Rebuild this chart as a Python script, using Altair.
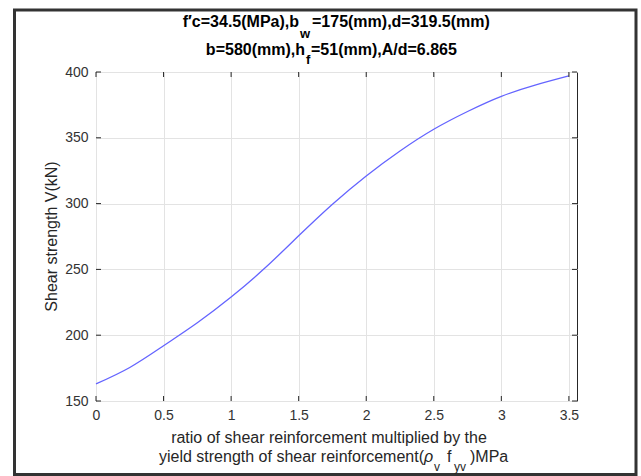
import altair as alt
import pandas as pd

# ---- data ----
x_vals = [0.0, 0.25, 0.5, 0.75, 1.0, 1.25, 1.5, 1.75, 2.0, 2.25, 2.5, 2.75, 3.0, 3.25, 3.5]
v_vals = [163, 175.5, 192, 209.5, 229, 251, 275.5, 299.5, 321, 340, 356.5, 370, 381.5, 390, 397]
x_ticks = [0, 0.5, 1, 1.5, 2, 2.5, 3, 3.5]
y_ticks = [150, 200, 250, 300, 350, 400]
x_domain = [0, 3.56]
y_domain = [150, 400]

title1 = ["f\u2032c=34.5(MPa),b", "w", "=175(mm),d=319.5(mm)"]
title2 = ["b=580(mm),h", "f", "=51(mm),A/d=6.865"]
xlabel1 = "ratio of shear reinforcement multiplied by the"
xlabel2 = ["yield strength of shear reinforcement(", "\u03c1", "v", "f", "yv", ")MPa"]
ylabel = "Shear strength V(kN)"

W, H = 481, 329
FONT = "Liberation Sans"
AX = "#262626"

df = pd.DataFrame({"x": x_vals, "v": v_vals})
xt = pd.DataFrame({"x": x_ticks})
yt = pd.DataFrame({"v": y_ticks})
one = pd.DataFrame({"a": [0]})

xs = alt.Scale(domain=x_domain, nice=False, zero=False)
ys = alt.Scale(domain=y_domain, nice=False, zero=False)
x_axis = alt.Axis(values=x_ticks, format="~g", ticks=False, domain=False, labelPadding=7,
                  title=None, grid=True, labelFlush=False)
y_axis = alt.Axis(values=y_ticks, ticks=False, domain=False, labelPadding=8,
                  title=None, grid=True, labelFlush=False)

line = alt.Chart(df).mark_line(color="#6464ff", strokeWidth=1.3, interpolate="natural").encode(
    x=alt.X("x:Q", scale=xs, axis=x_axis),
    y=alt.Y("v:Q", scale=ys, axis=y_axis),
)

def tick_x(y0, y1):
    return alt.Chart(xt).mark_rule(color=AX, strokeWidth=1).encode(
        x=alt.X("x:Q", scale=xs, axis=x_axis), y=alt.value(y0), y2=alt.value(y1))

def tick_y(x0, x1):
    return alt.Chart(yt).mark_rule(color=AX, strokeWidth=1).encode(
        y=alt.Y("v:Q", scale=ys, axis=y_axis), x=alt.value(x0), x2=alt.value(x1))

ticks = [tick_x(H, H - 5), tick_x(0, 5), tick_y(0, 5), tick_y(W, W - 5)]

frame = alt.Chart(one).mark_rect(fillOpacity=0, stroke="#333333", strokeWidth=3).encode(
    x=alt.value(-81.5), x2=alt.value(540), y=alt.value(-62), y2=alt.value(402.5))

def txt(s, x, y, size=16, weight="normal", align="left", style="normal", angle=0, color="#000000"):
    m = dict(text=s, font=FONT, fontSize=size, fontWeight=weight, align=align,
             baseline="alphabetic", fontStyle=style, color=color)
    if angle:
        m["angle"] = angle
        m["baseline"] = "middle"
    return alt.Chart(one).mark_text(**m).encode(x=alt.value(x), y=alt.value(y))

texts = [
    txt(title1[0], 203, -45, weight="bold", align="right"),
    txt(title1[1], 204, -34, size=13, weight="bold"),
    txt(title1[2], 216, -45, weight="bold"),
    txt(title2[0], 209, -17, weight="bold", align="right"),
    txt(title2[1], 210, -8, size=13, weight="bold"),
    txt(title2[2], 215, -17, weight="bold"),
    txt(xlabel1, 233, 371, align="center", color=AX),
    txt(xlabel2[0], 328, 390, align="right", color=AX),
    txt(xlabel2[1], 328, 390, style="italic", color=AX),
    txt(xlabel2[2], 338, 399, size=12, color=AX),
    txt(xlabel2[3], 351, 390, color=AX),
    txt(xlabel2[4], 358, 399, size=12, color=AX),
    txt(xlabel2[5], 374, 390, color=AX),
    txt(ylabel, -44, H / 2, align="center", angle=270, color=AX),
]

chart = alt.layer(frame, line, *ticks, *texts).properties(
    width=W, height=H,
    autosize=alt.AutoSizeParams(type="none"),
    padding={"left": 96, "top": 72, "right": 64, "bottom": 75},
    background="white",
).configure_view(stroke=AX, strokeWidth=1).configure_axis(
    gridColor="#e3e3e3", gridWidth=1, labelFont=FONT, labelFontSize=14, labelColor="#333333",
)

chart.save("out.html", embed_options={"renderer": "svg", "actions": False})
